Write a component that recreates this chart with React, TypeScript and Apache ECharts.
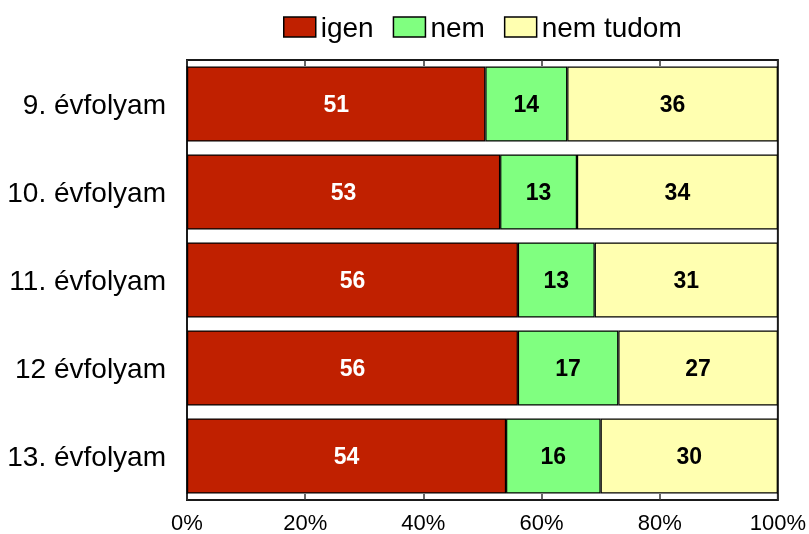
import React, { useEffect, useRef } from "react";
import * as echarts from "echarts";

const categories = ["9. évfolyam", "10. évfolyam", "11. évfolyam", "12 évfolyam", "13. évfolyam"];
const seriesNames = ["igen", "nem", "nem tudom"];
const igen = [51, 53, 56, 56, 54];
const nem = [14, 13, 13, 17, 16];
const nemTudom = [36, 34, 31, 27, 30];
const colors = ["#C02000", "#80FF80", "#FFFFB0"];
const labelColors = ["#FFFFFF", "#000000", "#000000"];

const FONT = "'Liberation Sans', Arial, sans-serif";

export default function App() {
  const ref = useRef<HTMLDivElement>(null);
  useEffect(() => {
    if (!ref.current) return;
    const chart = echarts.init(ref.current, undefined, { renderer: "svg" });
    const raw = [igen, nem, nemTudom];
    const totals = categories.map((_, i) => raw.reduce((s, arr) => s + arr[i], 0));
    const series = raw.map((arr, si) => ({
      name: seriesNames[si],
      type: "bar",
      stack: "total",
      barWidth: 75,
      data: arr.map((v, i) => (v / totals[i]) * 100),
      itemStyle: { color: colors[si], borderColor: "#000", borderWidth: 1.2 },
      label: {
        show: true,
        position: "inside",
        formatter: (p: any) => String(arr[p.dataIndex]),
        color: labelColors[si],
        fontFamily: FONT,
        fontWeight: "bold",
        fontSize: 23,
      },
    }));
    chart.setOption({
      animation: false,
      textStyle: { fontFamily: FONT },
      legend: {
        data: seriesNames,
        icon: "rect",
        left: 283,
        top: 13,
        padding: 0,
        itemWidth: 32,
        itemHeight: 20,
        itemGap: 19,
        itemStyle: { borderColor: "#000", borderWidth: 1.5 },
        textStyle: { fontFamily: FONT, fontSize: 28, color: "#000" },
      },
      grid: {
        left: 187,
        right: 25,
        top: 60,
        bottom: 34,
        show: true,
        borderColor: "#1a1a1a",
        borderWidth: 2,
        backgroundColor: "transparent",
      },
      xAxis: [
        {
          type: "value",
          min: 0,
          max: 100,
          interval: 20,
          position: "bottom",
          axisLine: { show: false },
          axisTick: { show: true, inside: true, length: 6, lineStyle: { color: "#333", width: 1.5 } },
          splitLine: { show: false },
          axisLabel: { formatter: "{value}%", fontFamily: FONT, fontSize: 22, color: "#000", margin: 11 },
        },
        {
          type: "value",
          min: 0,
          max: 100,
          interval: 20,
          position: "top",
          axisLine: { show: false },
          axisTick: { show: true, inside: true, length: 6, lineStyle: { color: "#333", width: 1.5 } },
          splitLine: { show: false },
          axisLabel: { show: false },
        },
      ],
      yAxis: {
        type: "category",
        data: categories,
        inverse: true,
        axisLine: { show: false },
        axisTick: { show: false },
        axisLabel: { fontFamily: FONT, fontSize: 28, color: "#000", margin: 21 },
      },
      series,
    });
    return () => chart.dispose();
  }, []);
  return <div ref={ref} style={{ position: "fixed", left: 0, top: 0, width: 809, height: 534 }} />;
}
